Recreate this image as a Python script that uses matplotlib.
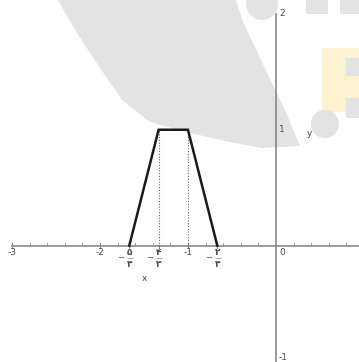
import matplotlib
matplotlib.use("Agg")
import matplotlib.pyplot as plt
from matplotlib.patches import Polygon, Circle, Rectangle
from matplotlib.transforms import offset_copy

# Piecewise-linear function: vertices of the trapezoid
fx = [-5/3, -4/3, -1, -2/3]
fy = [0, 1, 1, 0]

# Guide lines dropped from the top corners
guide_x = [-4/3, -1]

# Axis tick labels
int_ticks = [-3, -2, -1]
int_labels = ["-3", "-2", "-1"]
frac_ticks = [-5/3, -4/3, -2/3]
frac_num = ["\u06f5", "\u06f4", "\u06f2"]
frac_den = ["\u06f3", "\u06f3", "\u06f3"]
y_ticks = [2, 1, -1]
y_labels = ["2", "1", "-1"]

W, H = 359, 362
fig = plt.figure(figsize=(W / 100, H / 100), dpi=100)

# Background decoration layer in pixel coordinates
bg = fig.add_axes([0, 0, 1, 1])
bg.set_xlim(0, W)
bg.set_ylim(H, 0)
bg.axis("off")
grey = "#e3e3e3"
bg.add_patch(Polygon([(58, 0), (75, 30), (98, 65), (122, 100), (150, 122),
                      (190, 133), (230, 142), (262, 148), (300, 146),
                      (285, 110), (262, 62), (243, 22), (236, 0)],
                     closed=True, fc=grey, ec="none"))
bg.add_patch(Circle((262, 4), 16, fc=grey, ec="none"))
bg.add_patch(Rectangle((306, 0), 22, 14, fc=grey, ec="none"))
bg.add_patch(Rectangle((340, 0), 19, 14, fc=grey, ec="none"))
bg.add_patch(Rectangle((322, 48), 37, 64, fc="#fcf2d2", ec="none"))
bg.add_patch(Rectangle((346, 58), 13, 18, fc=grey, ec="none"))
bg.add_patch(Rectangle((346, 98), 13, 20, fc=grey, ec="none"))
bg.add_patch(Circle((325, 124), 14, fc=grey, ec="none"))

ax = fig.add_axes([0, 0, 1, 1])
ax.patch.set_alpha(0)
ax.set_xlim(-3.136, 0.944)
ax.set_ylim(-1.005, 2.12)
ax.axis("off")

axis_c = "#8a8a8a"
txt_c = "#4a4a4a"
fs = 6.5

# Coordinate axes
ax.plot([-3, 0.944], [0, 0], color=axis_c, lw=1.2, zorder=2)
ax.plot([0, 0], [-1.005, 2], color=axis_c, lw=1.2, zorder=2)

# Minor ticks on the x axis every 0.2
for k in range(-15, 5):
    xv = k * 0.2
    ax.plot([xv, xv], [0, 0.018], color=axis_c, lw=0.6, zorder=2)
for t in int_ticks:
    ax.plot([t, t], [-0.02, 0.02], color=axis_c, lw=0.8, zorder=2)
for t in frac_ticks:
    ax.plot([t, t], [-0.02, 0.0], color=axis_c, lw=0.8, zorder=2)

# Dotted guides
for gx in guide_x:
    ax.plot([gx, gx], [0, 1], color="#666666", lw=0.8, ls=(0, (1, 1.5)), zorder=3)

# Function graph
ax.plot(fx, fy, color="#1a1a1a", lw=1.8, solid_joinstyle="miter", zorder=4)

# Integer tick labels
for t, lab in zip(int_ticks, int_labels):
    ax.annotate(lab, xy=(t, 0), xytext=(0, -7), textcoords="offset pixels",
                ha="center", va="center", fontsize=fs, color=txt_c)
ax.annotate("0", xy=(0, 0), xytext=(3, -7), textcoords="offset pixels",
            ha="left", va="center", fontsize=fs, color=txt_c)

# Fractional tick labels drawn as stacked numerator / denominator
bar_tr = offset_copy(ax.transData, fig=fig, x=0.5, y=-12.5, units="dots")
for t, n, d in zip(frac_ticks, frac_num, frac_den):
    ax.annotate("\u2212", xy=(t, 0), xytext=(-9, -12), textcoords="offset pixels",
                ha="center", va="center", fontsize=fs - 0.5, color=txt_c)
    ax.annotate(n, xy=(t, 0), xytext=(0.5, -7), textcoords="offset pixels",
                ha="center", va="center", fontsize=fs, color=txt_c,
                family="DejaVu Sans", fontweight="bold")
    ax.annotate(d, xy=(t, 0), xytext=(0.5, -18.5), textcoords="offset pixels",
                ha="center", va="center", fontsize=fs, color=txt_c,
                family="DejaVu Sans", fontweight="bold")
    ax.plot([t], [0], marker="_", ms=5, mew=0.6, color="#9a9a9a",
            transform=bar_tr, zorder=3)

# y tick labels
for t, lab in zip(y_ticks, y_labels):
    dy = 4 if t < 0 else 0
    ax.annotate(lab, xy=(0, t), xytext=(3, dy), textcoords="offset pixels",
                ha="left", va="center", fontsize=fs, color=txt_c)

# Axis names
ax.annotate("x", xy=(-1.5, 0), xytext=(0, -33), textcoords="offset pixels",
            ha="center", va="center", fontsize=fs, color=txt_c)
ax.annotate("y", xy=(0, 1), xytext=(33, -4), textcoords="offset pixels",
            ha="center", va="center", fontsize=fs, color=txt_c)

fig.savefig("out.png", dpi=100)
